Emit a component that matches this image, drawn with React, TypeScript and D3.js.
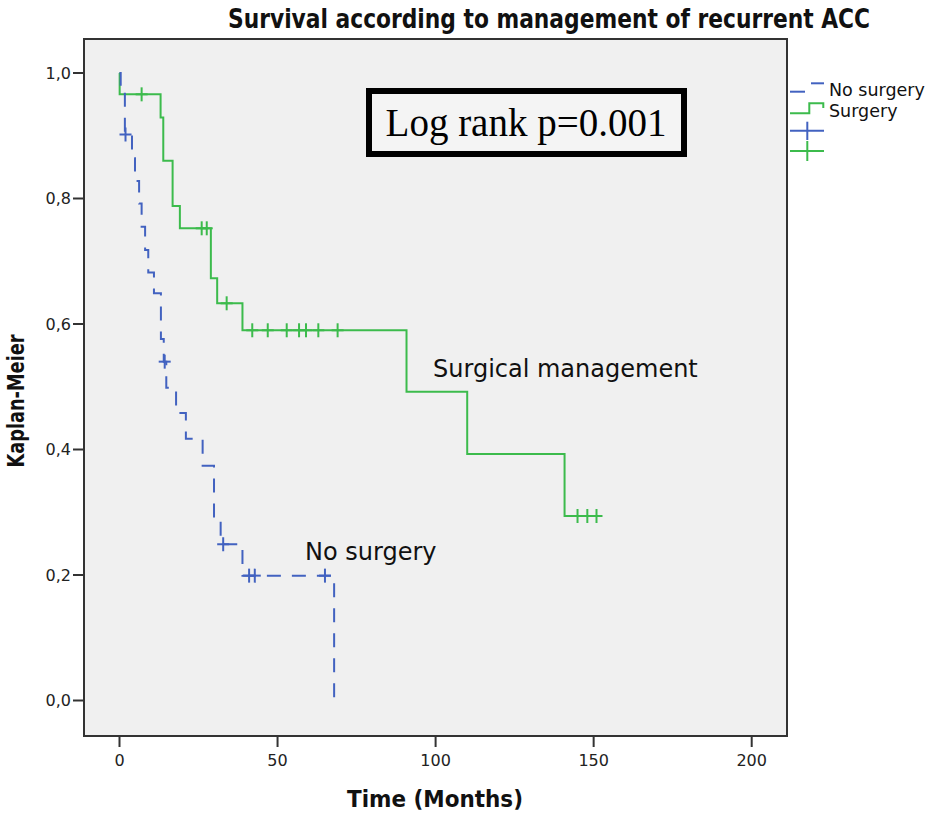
import React from "react";
import * as d3 from "d3";

// ---- Data ----
const noSurgeryTimes = [0, 0.38, 1.7, 3.95, 4.9, 6.2, 7.0, 8.1, 9.1, 10.9, 13.1, 14.0, 14.8, 17.9, 21.0, 26.3, 29.9, 32.0, 38.9, 67.9];
const noSurgerySurv = [1.0, 0.967, 0.902, 0.864, 0.828, 0.792, 0.755, 0.718, 0.682, 0.649, 0.576, 0.54, 0.4985, 0.458, 0.417, 0.374, 0.29, 0.249, 0.199, 0.0];
const noSurgeryCensored = [1.9, 14.3, 32.8, 41.0, 42.8, 65.0];

const surgeryTimes = [0, 0.05, 13.0, 13.85, 16.8, 19.1, 28.9, 30.9, 38.9, 90.8, 110.0, 140.8];
const surgerySurv = [1.0, 0.966, 0.929, 0.86, 0.788, 0.7525, 0.673, 0.633, 0.59, 0.492, 0.393, 0.294];
const surgeryCensored = [7.0, 26.0, 27.6, 33.9, 42.0, 46.9, 52.9, 56.8, 59.0, 62.9, 69.0, 144.9, 148.0, 150.9];

const xTicks = [0, 50, 100, 150, 200];
const yTicks = [0, 0.2, 0.4, 0.6, 0.8, 1.0];
const seriesNames = ["No surgery", "Surgery"];

const titleText = "Survival according to management of recurrent ACC";
const xLabel = "Time (Months)";
const yLabel = "Kaplan-Meier";
const noteText = "Log rank p=0.001";
const labelSurgery = "Surgical management";
const labelNoSurgery = "No surgery";

// ---- Layout ----
const W = 929, H = 814;
const frame = { left: 84, top: 39, right: 787, bottom: 736 };
const BLUE = "#4262c0";
const GREEN = "#3cbb4c";

const x = d3.scaleLinear().domain([0, 200]).range([119.5, 751.7]);
const y = d3.scaleLinear().domain([0, 1]).range([700.5, 73]);

function survAt(times: number[], surv: number[], t: number) {
  let v = surv[0];
  for (let i = 0; i < times.length; i++) if (times[i] <= t) v = surv[i];
  return v;
}

function buildPoints(times: number[], surv: number[], censored: number[]) {
  const pts: [number, number][] = times.map((t, i) => [t, surv[i]]);
  const lastCensor = d3.max(censored) ?? 0;
  const lastT = times[times.length - 1];
  if (lastCensor > lastT) pts.push([lastCensor, surv[surv.length - 1]]);
  return pts;
}

const line = d3
  .line<[number, number]>()
  .x((d) => x(d[0]))
  .y((d) => y(d[1]))
  .curve(d3.curveStepAfter);

const sansFont = "'DejaVu Sans', 'Lucida Grande', Verdana, sans-serif";
const condFont = "'DejaVu Sans Condensed', 'Liberation Sans Narrow', 'DejaVu Sans', sans-serif";

function Censors({ times, surv, censored, color }: { times: number[]; surv: number[]; censored: number[]; color: string }) {
  return (
    <g stroke={color} strokeWidth={2}>
      {censored.map((t, i) => {
        const cx = x(t);
        const cy = y(survAt(times, surv, t));
        return (
          <g key={i}>
            <line x1={cx - 6} x2={cx + 6} y1={cy} y2={cy} />
            <line x1={cx} x2={cx} y1={cy - 7} y2={cy + 7} />
          </g>
        );
      })}
    </g>
  );
}

export default function App() {
  const bluePts = buildPoints(noSurgeryTimes, noSurgerySurv, noSurgeryCensored);
  const greenPts = buildPoints(surgeryTimes, surgerySurv, surgeryCensored);

  return (
    <svg width={W} height={H} style={{ position: "absolute", left: 0, top: 0, background: "#fff" }}>
      {/* title */}
      <text x={549} y={28} textAnchor="middle" fontFamily={condFont} fontWeight="bold" fontSize={26} fill="#111" textLength={642} lengthAdjust="spacingAndGlyphs">
        {titleText}
      </text>

      {/* plot frame */}
      <rect x={frame.left} y={frame.top} width={frame.right - frame.left} height={frame.bottom - frame.top} fill="#f0f0f0" stroke="#333" strokeWidth={2} />

      {/* y axis ticks */}
      {yTicks.map((v) => (
        <g key={v}>
          <line x1={frame.left - 11} x2={frame.left} y1={y(v)} y2={y(v)} stroke="#333" strokeWidth={2} />
          <text x={frame.left - 13} y={y(v)} dy="0.35em" textAnchor="end" fontFamily={sansFont} fontSize={16} fill="#222">
            {d3.format(".1f")(v).replace(".", ",")}
          </text>
        </g>
      ))}

      {/* x axis ticks */}
      {xTicks.map((v) => (
        <g key={v}>
          <line x1={x(v)} x2={x(v)} y1={frame.bottom} y2={frame.bottom + 11} stroke="#333" strokeWidth={2} />
          <text x={x(v)} y={frame.bottom + 30} textAnchor="middle" fontFamily={sansFont} fontSize={16} fill="#222">
            {v}
          </text>
        </g>
      ))}

      {/* axis labels */}
      <text x={435} y={807} textAnchor="middle" fontFamily={condFont} fontWeight="bold" fontSize={23} fill="#111" textLength={176} lengthAdjust="spacingAndGlyphs">
        {xLabel}
      </text>
      <text transform="translate(24,401) rotate(-90)" textAnchor="middle" fontFamily={condFont} fontWeight="bold" fontSize={23} fill="#111" textLength={133} lengthAdjust="spacingAndGlyphs">
        {yLabel}
      </text>

      {/* curves */}
      <path d={line(greenPts) ?? ""} fill="none" stroke={GREEN} strokeWidth={2} />
      <Censors times={surgeryTimes} surv={surgerySurv} censored={surgeryCensored} color={GREEN} />
      <path d={line(bluePts) ?? ""} fill="none" stroke={BLUE} strokeWidth={2} strokeDasharray="14 11" />
      <Censors times={noSurgeryTimes} surv={noSurgerySurv} censored={noSurgeryCensored} color={BLUE} />

      {/* annotations */}
      <text x={433} y={377} fontFamily={sansFont} fontSize={24} fill="#111">
        {labelSurgery}
      </text>
      <text x={305} y={560} fontFamily={sansFont} fontSize={24} fill="#111">
        {labelNoSurgery}
      </text>

      {/* log rank box */}
      <rect x={369} y={91} width={315} height={63} fill="#f4f4f4" stroke="#000" strokeWidth={6} />
      <text x={526} y={136} textAnchor="middle" fontFamily="'Liberation Serif', 'Times New Roman', serif" fontSize={39} fill="#000">
        {noteText}
      </text>

      {/* legend */}
      <g strokeWidth={2} fill="none">
        <line x1={790} x2={805} y1={91.7} y2={91.7} stroke={BLUE} />
        <line x1={811} x2={824} y1={83.3} y2={83.3} stroke={BLUE} />
        <path d="M790,113.3 H809.3 V103.3 H823.3 V108" stroke={GREEN} />
        <line x1={790} x2={824} y1={130.7} y2={130.7} stroke={BLUE} />
        <line x1={807.3} x2={807.3} y1={121.7} y2={140} stroke={BLUE} />
        <line x1={790} x2={824} y1={151} y2={151} stroke={GREEN} />
        <line x1={807.3} x2={807.3} y1={141} y2={161} stroke={GREEN} />
      </g>
      <text x={829} y={96} fontFamily={sansFont} fontSize={17.5} fill="#111">{seriesNames[0]}</text>
      <text x={829} y={117} fontFamily={sansFont} fontSize={17.5} fill="#111">{seriesNames[1]}</text>
    </svg>
  );
}
